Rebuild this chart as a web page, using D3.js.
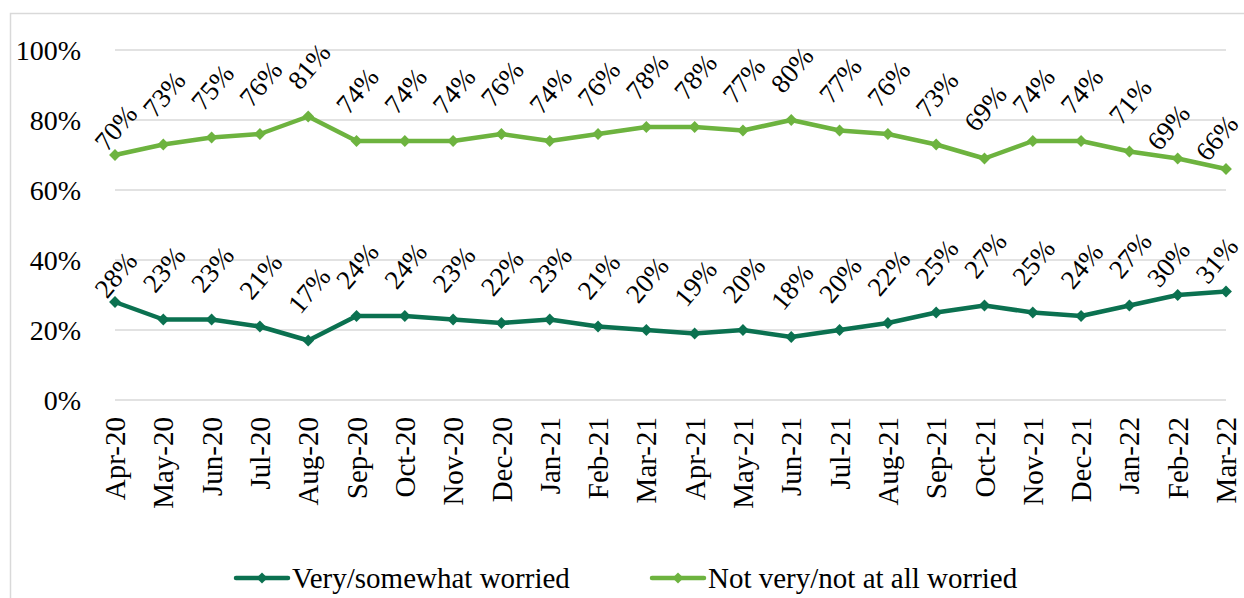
<!DOCTYPE html>
<html><head><meta charset="utf-8">
<script src="https://cdn.jsdelivr.net/npm/d3@7"></script>
</head><body style="margin:0;background:#fff">
<svg id="c" width="1244" height="598" style="display:block"></svg>
<script>
const months = ["Apr-20","May-20","Jun-20","Jul-20","Aug-20","Sep-20","Oct-20","Nov-20","Dec-20","Jan-21","Feb-21","Mar-21","Apr-21","May-21","Jun-21","Jul-21","Aug-21","Sep-21","Oct-21","Nov-21","Dec-21","Jan-22","Feb-22","Mar-22"];
const worried = [28,23,23,21,17,24,24,23,22,23,21,20,19,20,18,20,22,25,27,25,24,27,30,31];
const notWorried = [70,73,75,76,81,74,74,74,76,74,76,78,78,77,80,77,76,73,69,74,74,71,69,66];
const yTicks = [0,20,40,60,80,100];
const seriesNames = ["Very/somewhat worried","Not very/not at all worried"];
const colors = ["#0b7150","#6db33f"];
const FONT = "'Liberation Serif', 'Times New Roman', serif";

const svg = d3.select("#c");
svg.append("path").attr("d","M10.5,598 V13.5 H1244").attr("fill","none").attr("stroke","#d9d9d9").attr("stroke-width",1.5);

const x = d3.scalePoint().domain(months).range([115,1226]);
const y = d3.scaleLinear().domain([0,100]).range([400,50]);

svg.append("g").selectAll("line").data(yTicks).join("line")
  .attr("x1",115).attr("x2",1226).attr("y1",d=>y(d)).attr("y2",d=>y(d))
  .attr("stroke","#d9d9d9").attr("stroke-width",1.5);

const yAxis = d3.axisLeft(y).tickValues(yTicks).tickFormat(d=>d+"%").tickSize(0).tickPadding(34);
const gy = svg.append("g").attr("transform","translate(115,0)").call(yAxis).attr("font-family",null);
gy.select(".domain").remove();
gy.selectAll("text").style("font-family",FONT).style("font-size","28px").attr("fill","#000").attr("dy","0.33em");

const xAxis = d3.axisBottom(x).tickSize(0).tickPadding(0);
const gx = svg.append("g").attr("transform","translate(0,400)").call(xAxis).attr("font-family",null);
gx.select(".domain").remove();
gx.selectAll("text").style("font-family",FONT).style("font-size","29px").attr("fill","#000")
  .attr("transform","rotate(-90)").attr("text-anchor","end").attr("x",-17).attr("y",0).attr("dy","0.33em");

const series = [worried, notWorried];
const line = d3.line().x((d,i)=>x(months[i])).y(d=>y(d));
const n = months.length;
// label placement rule: centred above the point, pulled closer at the chart edges
const labelDy = i => (i === 0 ? 27 : (i >= n - 2 ? 31 : 50));
const labelDx = i => (i >= n - 2 ? -9 : 1);

series.forEach((vals,si)=>{
  const g = svg.append("g");
  g.append("path").datum(vals).attr("d",line).attr("fill","none").attr("stroke",colors[si]).attr("stroke-width",4.5).attr("stroke-linejoin","round");
  g.selectAll("path.m").data(vals).join("path").attr("class","m")
    .attr("d",d3.symbol().type(d3.symbolSquare).size(70))
    .attr("transform",(d,i)=>`translate(${x(months[i])},${y(d)}) rotate(45)`)
    .attr("fill",colors[si]);
  g.selectAll("text").data(vals).join("text")
    .attr("transform",(d,i)=>`translate(${x(months[i])+labelDx(i)},${y(d)-labelDy(i)}) rotate(-50)`)
    .attr("text-anchor","middle").attr("dy","0.33em")
    .style("font-family",FONT).style("font-size","27px").attr("fill","#000").text(d=>d+"%");
});

const legendX = [236,652];
seriesNames.forEach((nm,i)=>{
  const lg = svg.append("g").attr("transform",`translate(${legendX[i]},578)`);
  lg.append("line").attr("x1",0).attr("x2",52).attr("stroke",colors[i]).attr("stroke-width",4.5).attr("stroke-linecap","round");
  lg.append("path").attr("d",d3.symbol().type(d3.symbolSquare).size(60)).attr("transform","translate(26,0) rotate(45)").attr("fill",colors[i]);
  lg.append("text").attr("x",56).attr("y",0).attr("dy","0.33em").style("font-family",FONT).style("font-size","29px").attr("fill","#000").text(nm);
});
</script>
</body></html>
